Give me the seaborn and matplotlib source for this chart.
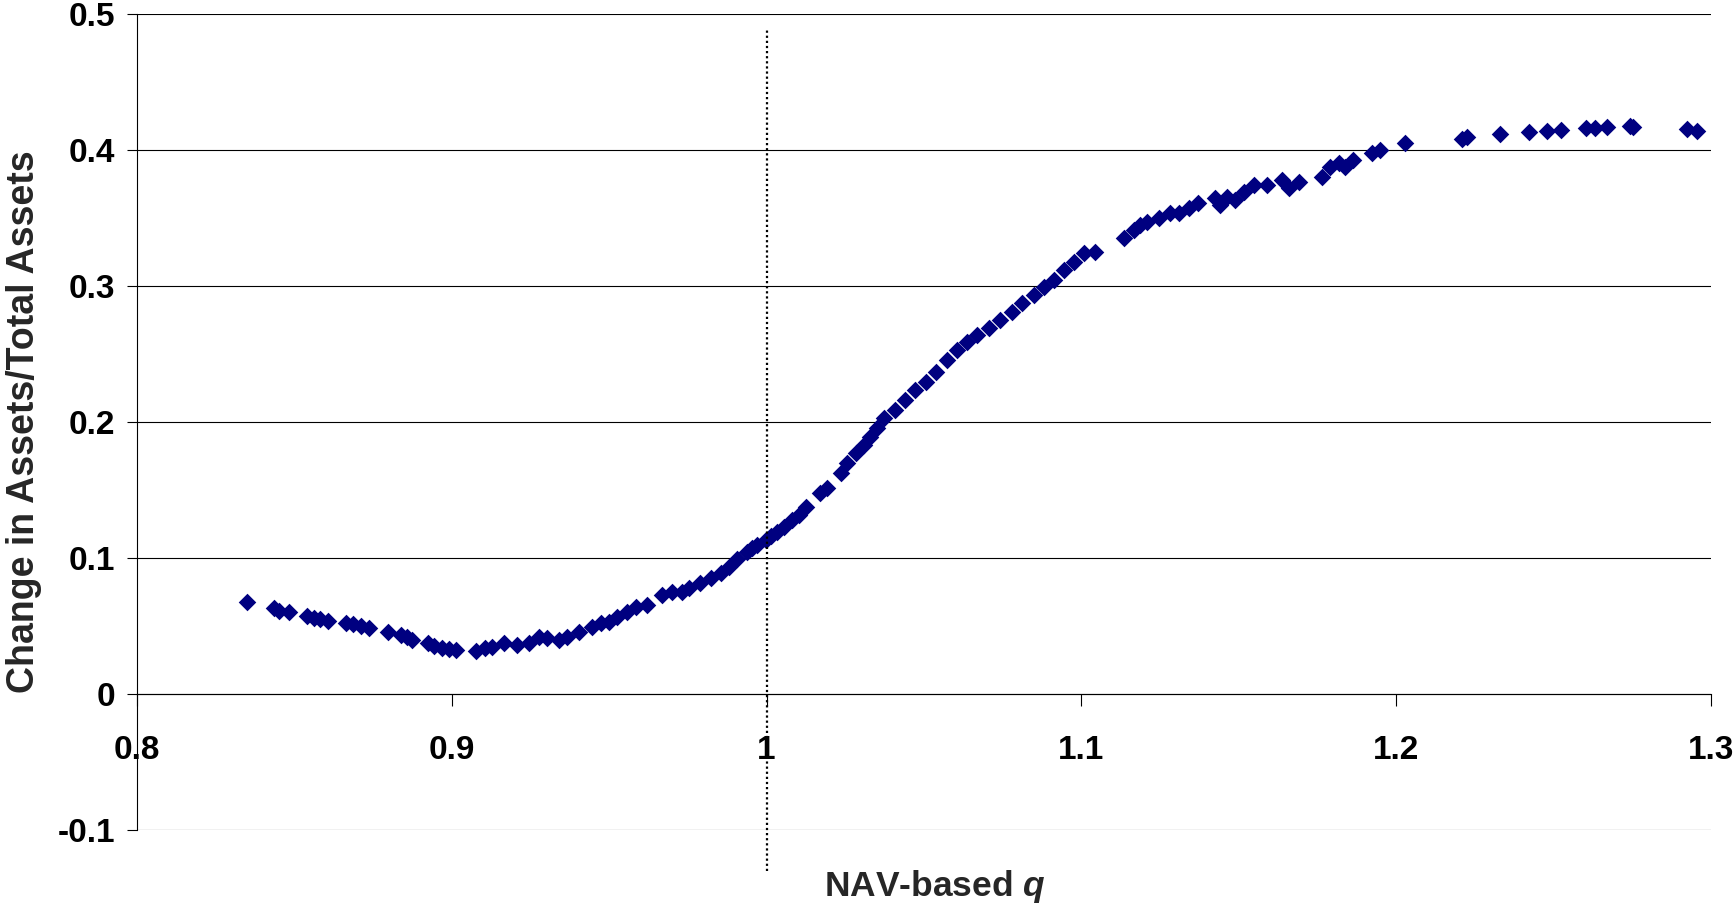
import matplotlib
matplotlib.use("Agg")
import matplotlib.pyplot as plt
import seaborn as sns
import pandas as pd
from matplotlib.ticker import FixedLocator, FixedFormatter

# ---- data ----
nav_q = [
    0.8349, 0.8434, 0.8452, 0.8484, 0.8540, 0.8561, 0.8582, 0.8607, 0.8663, 0.8685,
    0.8711, 0.8737, 0.8796, 0.8838, 0.8857, 0.8875, 0.8923, 0.8944, 0.8970, 0.8991,
    0.9013, 0.9076, 0.9105, 0.9129, 0.9166, 0.9208, 0.9245, 0.9277, 0.9304, 0.9340,
    0.9367, 0.9404, 0.9446, 0.9473, 0.9499, 0.9526, 0.9558, 0.9584, 0.9621, 0.9669,
    0.9700, 0.9732, 0.9753, 0.9790, 0.9822, 0.9854, 0.9880, 0.9907, 0.9939, 0.9955,
    0.9970, 0.9997, 1.0015, 1.0034, 1.0055, 1.0081, 1.0102, 1.0124, 1.0171, 1.0192,
    1.0235, 1.0256, 1.0283, 1.0309, 1.0330, 1.0351, 1.0372, 1.0409, 1.0441, 1.0473,
    1.0505, 1.0537, 1.0573, 1.0605, 1.0637, 1.0669, 1.0706, 1.0743, 1.0780, 1.0812,
    1.0848, 1.0880, 1.0912, 1.0944, 1.0975, 1.1007, 1.1044, 1.1134, 1.1166, 1.1187,
    1.1208, 1.1245, 1.1283, 1.1309, 1.1341, 1.1372, 1.1425, 1.1441, 1.1462, 1.1489,
    1.1515, 1.1547, 1.1589, 1.1637, 1.1658, 1.1690, 1.1764, 1.1790, 1.1817, 1.1838,
    1.1864, 1.1922, 1.1949, 1.2029, 1.2208, 1.2226, 1.2330, 1.2422, 1.2480, 1.2524,
    1.2603, 1.2632, 1.2669, 1.2743, 1.2753, 1.2925, 1.2954,
]
asset_change = [
    0.0676, 0.0630, 0.0613, 0.0600, 0.0574, 0.0561, 0.0554, 0.0539, 0.0524, 0.0512,
    0.0502, 0.0483, 0.0454, 0.0434, 0.0417, 0.0397, 0.0373, 0.0355, 0.0340, 0.0331,
    0.0324, 0.0318, 0.0336, 0.0348, 0.0373, 0.0360, 0.0373, 0.0421, 0.0410, 0.0397,
    0.0421, 0.0458, 0.0495, 0.0520, 0.0532, 0.0568, 0.0605, 0.0642, 0.0654, 0.0728,
    0.0752, 0.0752, 0.0777, 0.0814, 0.0851, 0.0887, 0.0936, 0.0990, 0.1047, 0.1070,
    0.1096, 0.1132, 0.1160, 0.1194, 0.1225, 0.1280, 0.1316, 0.1377, 0.1475, 0.1512,
    0.1623, 0.1696, 0.1770, 0.1831, 0.1892, 0.1954, 0.2027, 0.2088, 0.2162, 0.2235,
    0.2296, 0.2370, 0.2456, 0.2529, 0.2590, 0.2640, 0.2689, 0.2750, 0.2811, 0.2873,
    0.2934, 0.2995, 0.3044, 0.3118, 0.3179, 0.3241, 0.3253, 0.3350, 0.3412, 0.3449,
    0.3473, 0.3498, 0.3534, 0.3534, 0.3571, 0.3608, 0.3645, 0.3596, 0.3657, 0.3632,
    0.3694, 0.3743, 0.3743, 0.3779, 0.3718, 0.3767, 0.3804, 0.3877, 0.3902, 0.3877,
    0.3926, 0.3976, 0.4000, 0.4049, 0.4078, 0.4093, 0.4118, 0.4130, 0.4140, 0.4147,
    0.4164, 0.4164, 0.4167, 0.4176, 0.4167, 0.4152, 0.4142,
]

x_ticks = [0.8, 0.9, 1.0, 1.1, 1.2, 1.3]
x_tick_labels = ["0.8", "0.9", "1", "1.1", "1.2", "1.3"]
y_ticks = [-0.1, 0.0, 0.1, 0.2, 0.3, 0.4, 0.5]
y_tick_labels = ["-0.1", "0", "0.1", "0.2", "0.3", "0.4", "0.5"]
x_label = "NAV-based $q$"
y_label = "Change in Assets/Total Assets"
ref_q = 1.0
ref_span = (-0.13, 0.49)

# ---- style ----
sns.set_style("white")
plt.rcParams["font.family"] = ["Liberation Sans", "DejaVu Sans"]
plt.rcParams["font.weight"] = "bold"
plt.rcParams["mathtext.fontset"] = "custom"
plt.rcParams["mathtext.it"] = "Liberation Sans:italic:bold"
plt.rcParams["mathtext.rm"] = "Liberation Sans:bold"

fig = plt.figure(figsize=(17.36, 9.11), dpi=100)
ax = fig.add_axes([0.0789, 0.0889, 0.9067, 0.8957])

df = pd.DataFrame({"q": nav_q, "chg": asset_change})
sns.scatterplot(data=df, x="q", y="chg", marker="D", s=80, color="#000080",
                linewidth=0, ax=ax, zorder=3, legend=False)

ax.set_xlim(0.8, 1.3)
ax.set_ylim(-0.1, 0.5)
ax.xaxis.set_major_locator(FixedLocator(x_ticks))
ax.xaxis.set_major_formatter(FixedFormatter(x_tick_labels))
ax.yaxis.set_major_locator(FixedLocator(y_ticks))
ax.yaxis.set_major_formatter(FixedFormatter(y_tick_labels))

ax.spines["bottom"].set_position(("data", 0))
ax.spines["top"].set_visible(False)
ax.spines["right"].set_visible(False)
for sp in ("left", "bottom"):
    ax.spines[sp].set_color("black")
    ax.spines[sp].set_linewidth(0.8)
    ax.spines[sp].set_zorder(2)

ax.yaxis.grid(True, color="black", linewidth=0.8)
ax.xaxis.grid(False)
ax.set_axisbelow(True)

ax.tick_params(axis="x", direction="out", length=8.6, width=0.8, pad=21,
               labelsize=24, colors="black", bottom=True)
ax.tick_params(axis="y", direction="out", length=7.2, width=0.8, pad=8.5,
               labelsize=24, colors="black", left=True)
for lab in ax.get_xticklabels() + ax.get_yticklabels():
    lab.set_fontweight("bold")

ax.vlines(ref_q, ref_span[0], ref_span[1], colors="black",
          linestyles=(0, (1, 1.3)), linewidth=1.6, clip_on=False, zorder=4)

ax.set_xlabel(x_label, fontsize=25.5, fontweight="bold")
ax.xaxis.set_label_coords(0.507, -0.069)
ax.xaxis.label.set_va("center")
ax.set_ylabel(y_label, fontsize=27, fontweight="bold")
ax.yaxis.set_label_coords(-0.0718, 0.5)
ax.yaxis.label.set_va("center")

fig.savefig("out.png", dpi=100)
